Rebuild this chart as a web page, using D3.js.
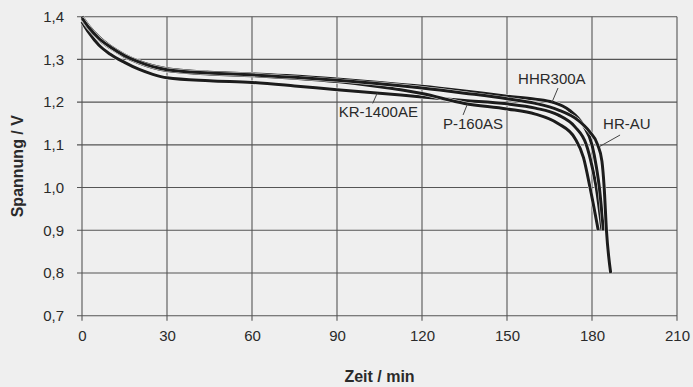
<!DOCTYPE html>
<html>
<head>
<meta charset="utf-8">
<script src="https://cdn.jsdelivr.net/npm/d3@7"></script>
<style>
  html, body { margin: 0; padding: 0; background: #efefef; }
  svg { display: block; }
  text { font-family: "Liberation Sans", Arial, sans-serif; fill: #2a2a2a; }
</style>
</head>
<body>
<svg id="chart" width="693" height="387"></svg>
<script>
// ---- data ----
const xTicks = [0, 30, 60, 90, 120, 150, 180, 210];
const yTicks = [0.7, 0.8, 0.9, 1.0, 1.1, 1.2, 1.3, 1.4];

const krTime = [0, 2.5, 6, 10, 15, 20, 25, 30, 45, 60, 75, 90, 105, 120, 135, 150, 160, 168, 174, 178, 180, 181.5, 183.5];
const krVolt = [1.388, 1.362, 1.333, 1.312, 1.293, 1.277, 1.265, 1.257, 1.250, 1.246, 1.238, 1.229, 1.221, 1.212, 1.204, 1.196, 1.186, 1.170, 1.142, 1.100, 1.050, 1.000, 0.900];

const pTime = [0, 2.5, 6, 10, 15, 20, 25, 30, 45, 60, 75, 90, 105, 120, 135, 150, 160, 168, 174, 177, 179.3, 182.2];
const pVolt = [1.395, 1.372, 1.347, 1.327, 1.307, 1.292, 1.281, 1.274, 1.266, 1.262, 1.256, 1.248, 1.236, 1.220, 1.197, 1.184, 1.172, 1.150, 1.115, 1.070, 1.000, 0.900];

const hhrTime = [0, 2.5, 6, 10, 15, 20, 25, 30, 45, 60, 75, 90, 105, 120, 135, 150, 160, 166, 172, 177, 180, 181.5, 182.6, 184];
const hhrVolt = [1.400, 1.377, 1.352, 1.331, 1.311, 1.296, 1.285, 1.278, 1.270, 1.266, 1.261, 1.254, 1.246, 1.237, 1.226, 1.214, 1.207, 1.200, 1.181, 1.145, 1.100, 1.050, 1.000, 0.900];

const hrTime = [0, 2.5, 6, 10, 15, 20, 25, 30, 45, 60, 75, 90, 105, 120, 135, 150, 160, 168, 175, 179, 182, 183.5, 184.3, 185.1, 186.6];
const hrVolt = [1.397, 1.374, 1.349, 1.329, 1.309, 1.294, 1.283, 1.276, 1.268, 1.264, 1.258, 1.251, 1.243, 1.233, 1.221, 1.208, 1.197, 1.182, 1.158, 1.132, 1.100, 1.062, 1.000, 0.900, 0.800];

const seriesNames = ["KR-1400AE", "P-160AS", "HHR300A", "HR-AU"];
// label anchor (time, voltage) and pointer from/to in data units
const labelTime = [90.6, 127.4, 153.9, 183.9];
const labelVolt = [1.178, 1.149, 1.254, 1.150];
const pointerFrom = [[102.6, 1.197], [134.5, 1.170], [168.0, 1.233], [189.9, 1.123]];
const pointerTo = [[104.2, 1.221], [136.0, 1.195], [165.9, 1.200], [182.4, 1.095]];

const xTitle = "Zeit / min";
const yTitle = "Spannung / V";

// ---- drawing ----
const svg = d3.select("#chart");
const margin = { left: 82, right: 16, top: 16.7, bottom: 71.3 };
const W = 693, H = 387;

const x = d3.scaleLinear().domain([0, 210]).range([margin.left, W - margin.right]);
const y = d3.scaleLinear().domain([0.7, 1.4]).range([H - margin.bottom, margin.top]);

const fmt = d => d3.format(".1f")(d).replace(".", ",");

// grid
const grid = svg.append("g");
grid.selectAll("line.h").data(yTicks).enter().append("line")
  .attr("x1", x(0) - 5).attr("x2", x(210))
  .attr("y1", d => y(d)).attr("y2", d => y(d))
  .attr("stroke", "#555").attr("stroke-width", 1.1);
grid.selectAll("line.v").data(xTicks).enter().append("line")
  .attr("x1", d => x(d)).attr("x2", d => x(d))
  .attr("y1", y(1.4)).attr("y2", y(0.7) + 5)
  .attr("stroke", "#555").attr("stroke-width", 1.1);

// axes labels via d3 axes (grid draws the lines)
const yAxis = svg.append("g").attr("transform", `translate(${x(0)},0)`)
  .call(d3.axisLeft(y).tickValues(yTicks).tickFormat(fmt).tickSize(0).tickPadding(18));
yAxis.select(".domain").remove();
yAxis.selectAll("text").attr("font-size", 15).attr("font-family", "Liberation Sans, Arial, sans-serif").attr("fill", "#2a2a2a");

const xAxis = svg.append("g").attr("transform", `translate(0,${y(0.7)})`)
  .call(d3.axisBottom(x).tickValues(xTicks).tickFormat(d3.format("d")).tickSize(0).tickPadding(15));
xAxis.select(".domain").remove();
xAxis.selectAll("text").attr("font-size", 15).attr("font-family", "Liberation Sans, Arial, sans-serif").attr("fill", "#2a2a2a");

// titles
svg.append("text").attr("x", (x(0) + x(210)) / 2).attr("y", 382)
  .attr("text-anchor", "middle").attr("font-size", 16).attr("font-weight", "bold").text(xTitle);
svg.append("text").attr("transform", `translate(23,${(y(0.7) + y(1.4)) / 2}) rotate(-90)`)
  .attr("text-anchor", "middle").attr("font-size", 16).attr("font-weight", "bold").text(yTitle);

// series
const series = [
  krTime.map((t, i) => [t, krVolt[i]]),
  pTime.map((t, i) => [t, pVolt[i]]),
  hhrTime.map((t, i) => [t, hhrVolt[i]]),
  hrTime.map((t, i) => [t, hrVolt[i]])
];
const line = d3.line().x(d => x(d[0])).y(d => y(d[1])).curve(d3.curveMonotoneX);
const lines = svg.append("g");
series.forEach(s => {
  lines.append("path").attr("d", line(s)).attr("fill", "none")
    .attr("stroke", "#f6f6f6").attr("stroke-width", 3.9);
  lines.append("path").attr("d", line(s)).attr("fill", "none")
    .attr("stroke", "#1c1c1c").attr("stroke-width", 3);
});

// annotation labels with pointers
seriesNames.forEach((name, i) => {
  svg.append("line")
    .attr("x1", x(pointerFrom[i][0])).attr("y1", y(pointerFrom[i][1]))
    .attr("x2", x(pointerTo[i][0])).attr("y2", y(pointerTo[i][1]))
    .attr("stroke", "#444").attr("stroke-width", 1);
  svg.append("text").attr("x", x(labelTime[i])).attr("y", y(labelVolt[i]))
    .attr("dy", "0.36em").attr("font-size", 15).text(name);
});
</script>
</body>
</html>
